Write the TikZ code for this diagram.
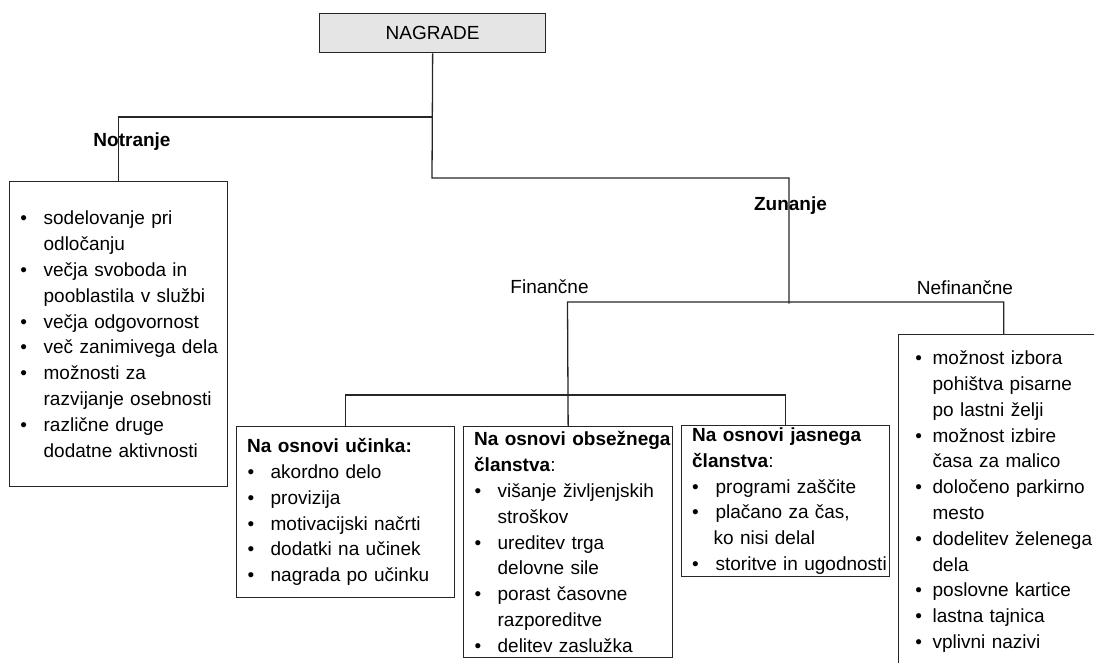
\documentclass[tikz,border=0pt]{standalone}
\usepackage{fontspec}
\setmainfont{Liberation Sans}
% bullet line: bullet at offset #1, item text at 34pt
\newcommand{\bi}[2][11]{\mbox{\makebox[34pt][l]{\hspace*{#1pt}•}#2}}
% continuation line of a bullet item
\newcommand{\ci}[2][34]{\mbox{\hspace*{#1pt}#2}}
% heading line of a box
\newcommand{\hd}[1]{\mbox{\hspace*{10.5pt}#1}}
\tikzset{
  conn/.style={draw=black!85, line width=1.3pt},
  box/.style={draw=black!85, line width=1.3pt, anchor=north west,
    inner xsep=0pt, inner ysep=0pt, align=left,
    font=\fontsize{19}{25.8}\selectfont},
  lbl/.style={inner sep=0pt, font=\fontsize{19}{23}\selectfont},
  lblb/.style={inner sep=0pt, font=\fontsize{19}{23}\selectfont\bfseries},
}
\begin{document}
\begin{tikzpicture}[x=1pt,y=-1pt]
\useasboundingbox (0,0) rectangle (1094,662);
\clip (0,0) rectangle (1094,662);

% root
\node[box, fill=black!10, minimum width=226pt, minimum height=39pt,
      text width=226pt, align=center] (nag) at (319,13) {NAGRADE};

% intrinsic rewards
\node[box, minimum width=218pt, minimum height=305pt, text width=218pt] (lbox) at (9,181) {%
\bi[10.7]{sodelovanje pri}\\
\ci{odločanju}\\
\bi[10.7]{večja svoboda in}\\
\ci{pooblastila v službi}\\
\bi[10.7]{večja odgovornost}\\
\bi[10.7]{več zanimivega dela}\\
\bi[10.7]{možnosti za}\\
\ci{razvijanje osebnosti}\\
\bi[10.7]{različne druge}\\
\ci{dodatne aktivnosti}};

% financial rewards
\node[box, minimum width=218pt, minimum height=171pt, text width=218pt] (ubox) at (236,426) {%
\hd{\textbf{Na osnovi učinka:}}\\
\bi{akordno delo}\\
\bi{provizija}\\
\bi{motivacijski načrti}\\
\bi{dodatki na učinek}\\
\bi{nagrada po učinku}};

\node[box, minimum width=209pt, minimum height=231pt, text width=209pt] (mbox) at (463,426) {%
\hd{\textbf{Na osnovi obsežnega}}\\
\hd{\textbf{članstva}:}\\
\bi{višanje življenjskih}\\
\ci{stroškov}\\
\bi{ureditev trga}\\
\ci{delovne sile}\\
\bi{porast časovne}\\
\ci{razporeditve}\\
\bi{delitev zaslužka}};

\node[box, minimum width=208pt, minimum height=151pt, text width=208pt] (jbox) at (681,425) {%
\hd{\textbf{Na osnovi jasnega}}\\
\hd{\textbf{članstva}:}\\
\bi[10.5]{programi zaščite}\\
\bi[10.5]{plačano za čas,}\\
\ci[32]{ko nisi delal}\\
\bi[10.5]{storitve in ugodnosti}};

% non-financial rewards
\node[box, minimum width=210pt, minimum height=334pt, text width=210pt] (rbox) at (898,334) {%
\bi[16.7]{možnost izbora}\\
\ci{pohištva pisarne}\\
\ci{po lastni želji}\\
\bi[16.7]{možnost izbire}\\
\ci{časa za malico}\\
\bi[16.7]{določeno parkirno}\\
\ci{mesto}\\
\bi[16.7]{dodelitev želenega}\\
\ci{dela}\\
\bi[16.7]{poslovne kartice}\\
\bi[16.7]{lastna tajnica}\\
\bi[16.7]{vplivni nazivi}};

% branch labels
\node[lblb] (notr) at (132,142) {Notranje};
\node[lblb] (zun) at (790.5,206) {Zunanje};
\node[lbl] (fin) at (549.5,287) {Finančne};
\node[lbl] (nef) at (965,288) {Nefinančne};

% junction points
\coordinate (j1) at (432,117);
\coordinate (j2) at (432,178);
\coordinate (zj) at (789,303.5);
\coordinate (fj) at (567.5,302);
\coordinate (fb) at (567.5,395);

% connectors
\draw[conn] (nag.south) -- (j2) -| (zj);
\draw[conn] (j1) -| (lbox.north);
\draw[conn] (rbox.north) |- (fj) -- (mbox.north);
\draw[conn] (ubox.north) |- (fb) -| (jbox.north);
\end{tikzpicture}
\end{document}
